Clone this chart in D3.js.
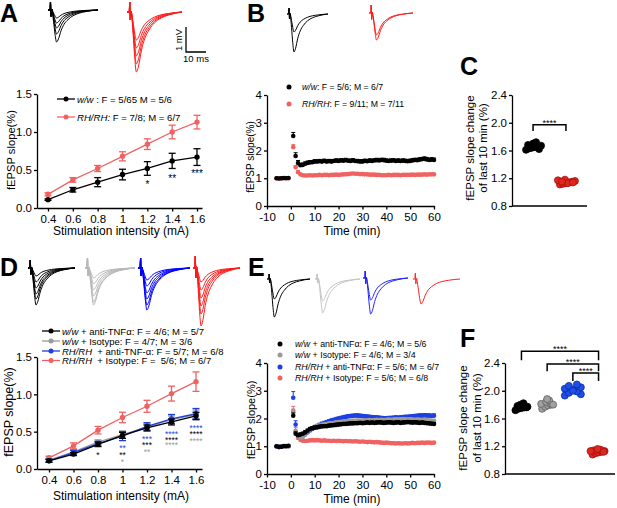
<!DOCTYPE html>
<html>
<head>
<meta charset="utf-8">
<script src="https://cdn.jsdelivr.net/npm/d3@7"></script>
<style>
body { margin: 0; background: #fff; }
svg { font-family: "Liberation Sans", Arial, sans-serif; }
.axis path, .axis line { stroke: #000; stroke-width: 1.3; }
.axis text { fill: #000; }
</style>
</head>
<body>
<svg id="fig" width="617" height="508"></svg>
<script>
// ---- data: input/output curves (A, D) ----
var intensity = [0.4, 0.6, 0.8, 1.0, 1.2, 1.4, 1.6];
var aWW = [0.11, 0.24, 0.34, 0.44, 0.52, 0.62, 0.67];
var aWWErr = [0.01, 0.03, 0.06, 0.07, 0.09, 0.10, 0.11];
var aRH = [0.18, 0.37, 0.52, 0.68, 0.84, 1.00, 1.13];
var aRHErr = [0.02, 0.03, 0.04, 0.06, 0.07, 0.09, 0.09];
var aStars = [{ x: 1.2, y: 0.33, t: "*" }, { x: 1.4, y: 0.41, t: "**" }, { x: 1.6, y: 0.47, t: "***" }];

var dWWanti = [0.11, 0.20, 0.33, 0.45, 0.55, 0.63, 0.71];
var dWWantiErr = [0.02, 0.02, 0.03, 0.04, 0.04, 0.04, 0.05];
var dWWiso = [0.12, 0.23, 0.36, 0.46, 0.56, 0.66, 0.73];
var dWWisoErr = [0.02, 0.03, 0.03, 0.05, 0.05, 0.05, 0.06];
var dRHanti = [0.11, 0.22, 0.34, 0.44, 0.57, 0.67, 0.74];
var dRHantiErr = [0.02, 0.03, 0.03, 0.06, 0.05, 0.06, 0.07];
var dRHiso = [0.15, 0.31, 0.52, 0.69, 0.84, 1.01, 1.17];
var dRHisoErr = [0.02, 0.04, 0.05, 0.07, 0.08, 0.10, 0.13];
var dStars = [
  { x: 0.8, y: 0.21, t: "*", c: "k" },
  { x: 1.0, y: 0.30, t: "**", c: "b" }, { x: 1.0, y: 0.20, t: "**", c: "k" }, { x: 1.0, y: 0.11, t: "*", c: "g" },
  { x: 1.2, y: 0.42, t: "***", c: "b" }, { x: 1.2, y: 0.34, t: "***", c: "k" }, { x: 1.2, y: 0.25, t: "**", c: "g" },
  { x: 1.4, y: 0.48, t: "****", c: "b" }, { x: 1.4, y: 0.41, t: "****", c: "k" }, { x: 1.4, y: 0.34, t: "****", c: "g" },
  { x: 1.6, y: 0.56, t: "****", c: "b" }, { x: 1.6, y: 0.48, t: "****", c: "k" }, { x: 1.6, y: 0.39, t: "****", c: "g" }
];

// ---- data: LTP time courses (B, E) ----
var timeBase = [-6, -5, -4, -3, -2, -1];
var timePost = d3.range(1, 61);

var bWWbase = [1.00, 0.99, 1.00, 1.01, 1.00, 1.01];
var bWW = [2.52, 1.80, 1.55, 1.47, 1.48, 1.52, 1.55, 1.57, 1.58, 1.60,
  1.60, 1.61, 1.60, 1.62, 1.60, 1.61, 1.60, 1.62, 1.63, 1.62,
  1.64, 1.63, 1.65, 1.63, 1.62, 1.64, 1.62, 1.61, 1.60, 1.60,
  1.62, 1.61, 1.63, 1.62, 1.64, 1.65, 1.64, 1.66, 1.65, 1.63,
  1.62, 1.63, 1.64, 1.62, 1.63, 1.62, 1.63, 1.62, 1.61, 1.62,
  1.64, 1.66, 1.65, 1.67, 1.69, 1.70, 1.68, 1.66, 1.67, 1.66];
var bWWErr = [0.13, 0.12, 0.09, 0.07, 0.07, 0.07, 0.07, 0.07, 0.06, 0.07,
  0.06, 0.07, 0.06, 0.07, 0.06, 0.07, 0.07, 0.06, 0.07, 0.07,
  0.06, 0.07, 0.07, 0.06, 0.07, 0.07, 0.06, 0.07, 0.06, 0.07,
  0.07, 0.06, 0.07, 0.07, 0.06, 0.07, 0.07, 0.06, 0.07, 0.07,
  0.06, 0.07, 0.07, 0.06, 0.07, 0.06, 0.07, 0.07, 0.06, 0.07,
  0.07, 0.06, 0.07, 0.07, 0.06, 0.07, 0.07, 0.06, 0.07, 0.07];
var bRHbase = [1.00, 1.00, 0.99, 1.00, 1.01, 1.00];
var bRH = [2.12, 1.40, 1.22, 1.14, 1.11, 1.10, 1.10, 1.11, 1.10, 1.11,
  1.11, 1.12, 1.11, 1.12, 1.12, 1.11, 1.12, 1.12, 1.13, 1.12,
  1.13, 1.14, 1.14, 1.15, 1.16, 1.17, 1.16, 1.16, 1.15, 1.15,
  1.14, 1.14, 1.13, 1.13, 1.13, 1.12, 1.12, 1.11, 1.11, 1.11,
  1.12, 1.11, 1.12, 1.12, 1.12, 1.11, 1.12, 1.12, 1.12, 1.12,
  1.13, 1.12, 1.13, 1.13, 1.13, 1.14, 1.13, 1.14, 1.14, 1.14];
var bRHErr = [0.09, 0.05, 0.04, 0.03, 0.03, 0.03, 0.03, 0.03, 0.03, 0.03,
  0.03, 0.03, 0.03, 0.03, 0.03, 0.03, 0.03, 0.03, 0.03, 0.03,
  0.03, 0.03, 0.03, 0.03, 0.03, 0.03, 0.03, 0.03, 0.03, 0.03,
  0.03, 0.03, 0.03, 0.03, 0.03, 0.03, 0.03, 0.03, 0.03, 0.03,
  0.03, 0.03, 0.03, 0.03, 0.03, 0.03, 0.03, 0.03, 0.03, 0.03,
  0.03, 0.03, 0.03, 0.03, 0.03, 0.03, 0.03, 0.03, 0.03, 0.03];

var eWWantiBase = [1.00, 0.97, 0.98, 1.01, 1.00, 1.02];
var eWWanti = [2.10, 1.45, 1.40, 1.42, 1.45, 1.50, 1.56, 1.62, 1.65, 1.67,
  1.68, 1.70, 1.71, 1.72, 1.72, 1.74, 1.75, 1.76, 1.77, 1.78,
  1.79, 1.80, 1.80, 1.81, 1.82, 1.82, 1.83, 1.83, 1.84, 1.83,
  1.84, 1.85, 1.84, 1.85, 1.84, 1.85, 1.86, 1.85, 1.84, 1.85,
  1.86, 1.85, 1.84, 1.85, 1.86, 1.84, 1.85, 1.86, 1.87, 1.86,
  1.85, 1.86, 1.85, 1.84, 1.85, 1.84, 1.83, 1.82, 1.81, 1.80];
var eWWantiErr = [0.10, 0.07, 0.06, 0.06, 0.06, 0.06, 0.06, 0.06, 0.06, 0.06,
  0.06, 0.06, 0.06, 0.06, 0.06, 0.06, 0.06, 0.06, 0.06, 0.06,
  0.06, 0.06, 0.06, 0.06, 0.06, 0.06, 0.06, 0.06, 0.06, 0.06,
  0.06, 0.06, 0.06, 0.06, 0.06, 0.06, 0.06, 0.06, 0.06, 0.06,
  0.06, 0.06, 0.06, 0.06, 0.06, 0.06, 0.06, 0.06, 0.06, 0.06,
  0.06, 0.06, 0.06, 0.06, 0.06, 0.06, 0.06, 0.06, 0.06, 0.06];
var eWWisoBase = [1.00, 0.98, 0.99, 1.00, 1.01, 1.00];
var eWWiso = [2.22, 1.50, 1.36, 1.31, 1.34, 1.42, 1.52, 1.60, 1.65, 1.70,
  1.73, 1.75, 1.77, 1.79, 1.80, 1.82, 1.83, 1.84, 1.86, 1.87,
  1.88, 1.89, 1.90, 1.90, 1.91, 1.92, 1.92, 1.93, 1.92, 1.93,
  1.92, 1.93, 1.94, 1.93, 1.94, 1.95, 1.94, 1.95, 1.94, 1.95,
  1.96, 1.95, 1.96, 1.97, 1.96, 1.97, 1.98, 1.97, 1.96, 1.97,
  1.96, 1.95, 1.96, 1.95, 1.94, 1.95, 1.94, 1.93, 1.92, 1.92];
var eWWisoErr = [0.12, 0.08, 0.06, 0.05, 0.05, 0.05, 0.05, 0.05, 0.05, 0.05,
  0.05, 0.05, 0.05, 0.05, 0.05, 0.05, 0.05, 0.05, 0.05, 0.05,
  0.05, 0.05, 0.05, 0.05, 0.05, 0.05, 0.05, 0.05, 0.05, 0.05,
  0.05, 0.05, 0.05, 0.05, 0.05, 0.05, 0.05, 0.05, 0.05, 0.05,
  0.05, 0.05, 0.05, 0.05, 0.05, 0.05, 0.05, 0.05, 0.05, 0.05,
  0.05, 0.05, 0.05, 0.05, 0.05, 0.05, 0.05, 0.05, 0.05, 0.05];
var eRHantiBase = [1.00, 0.99, 0.98, 1.00, 1.01, 1.00];
var eRHanti = [2.75, 1.78, 1.38, 1.33, 1.35, 1.42, 1.50, 1.57, 1.62, 1.68,
  1.72, 1.76, 1.80, 1.83, 1.86, 1.89, 1.92, 1.94, 1.97, 1.99,
  2.01, 2.03, 2.05, 2.07, 2.08, 2.09, 2.10, 2.10, 2.09, 2.08,
  2.07, 2.06, 2.05, 2.04, 2.03, 2.03, 2.02, 2.01, 2.00, 2.00,
  2.01, 2.01, 2.02, 2.03, 2.02, 2.03, 2.04, 2.05, 2.05, 2.06,
  2.07, 2.08, 2.09, 2.10, 2.10, 2.11, 2.10, 2.10, 2.09, 2.10];
var eRHantiErr = [0.22, 0.14, 0.08, 0.07, 0.07, 0.07, 0.07, 0.07, 0.07, 0.07,
  0.07, 0.07, 0.07, 0.07, 0.07, 0.07, 0.07, 0.07, 0.07, 0.07,
  0.07, 0.07, 0.07, 0.07, 0.07, 0.07, 0.07, 0.07, 0.07, 0.07,
  0.07, 0.07, 0.07, 0.07, 0.07, 0.07, 0.07, 0.07, 0.07, 0.07,
  0.07, 0.07, 0.07, 0.07, 0.07, 0.07, 0.07, 0.07, 0.07, 0.07,
  0.07, 0.07, 0.07, 0.07, 0.07, 0.07, 0.07, 0.07, 0.07, 0.07];
var eRHisoBase = [0.99, 0.98, 0.98, 1.00, 1.00, 1.01];
var eRHiso = [2.28, 1.55, 1.30, 1.23, 1.20, 1.19, 1.20, 1.21, 1.22, 1.21,
  1.22, 1.21, 1.20, 1.21, 1.20, 1.20, 1.19, 1.20, 1.19, 1.20,
  1.19, 1.18, 1.19, 1.18, 1.18, 1.17, 1.18, 1.17, 1.16, 1.17,
  1.16, 1.15, 1.16, 1.15, 1.14, 1.15, 1.14, 1.13, 1.12, 1.13,
  1.12, 1.11, 1.11, 1.10, 1.11, 1.10, 1.10, 1.11, 1.10, 1.11,
  1.12, 1.11, 1.12, 1.12, 1.13, 1.12, 1.13, 1.13, 1.12, 1.13];
var eRHisoErr = [0.16, 0.12, 0.05, 0.04, 0.04, 0.04, 0.04, 0.04, 0.04, 0.04,
  0.04, 0.04, 0.04, 0.04, 0.04, 0.04, 0.04, 0.04, 0.04, 0.04,
  0.04, 0.04, 0.04, 0.04, 0.04, 0.04, 0.04, 0.04, 0.04, 0.04,
  0.04, 0.04, 0.04, 0.04, 0.04, 0.04, 0.04, 0.04, 0.04, 0.04,
  0.04, 0.04, 0.04, 0.04, 0.04, 0.04, 0.04, 0.04, 0.04, 0.04,
  0.04, 0.04, 0.04, 0.04, 0.04, 0.04, 0.04, 0.04, 0.04, 0.04];

// ---- data: last 10 min summaries (C, F) ----
var cWW = [1.61, 1.63, 1.64, 1.65, 1.66, 1.67, 1.68, 1.70, 1.72, 1.65, 1.62];
var cWWdx = [-7, -4, -1, 2, 5, 8, -5, 0, 3, -2, 6];
var cRH = [1.11, 1.12, 1.13, 1.14, 1.15, 1.16, 1.17, 1.18, 1.13, 1.15, 1.14];
var cRHdx = [-6, -3, 0, 3, 6, 9, -8, -1, 2, -4, 7];
var fWWanti = [1.72, 1.74, 1.75, 1.76, 1.77, 1.78, 1.79, 1.80, 1.82, 1.76];
var fWWantiDx = [-6, -3, 0, 3, 6, -4, 1, -1, 2, 5];
var fWWiso = [1.74, 1.77, 1.79, 1.80, 1.81, 1.82, 1.84, 1.86, 1.88, 1.80];
var fWWisoDx = [-5, -2, 1, 4, -6, 3, -1, 2, 0, 6];
var fRHanti = [1.93, 1.95, 1.97, 1.99, 2.01, 2.03, 2.05, 2.07, 2.09, 2.00];
var fRHantiDx = [-8, 8, -4, 4, 0, -8, 8, -4, 4, 0];
var fRHiso = [1.08, 1.10, 1.11, 1.12, 1.13, 1.14, 1.15, 1.16, 1.12, 1.13];
var fRHisoDx = [-6, -3, 0, 3, 6, -5, 2, -1, 5, -8];

// ---- example sweeps (shape template) ----
var traceTime = [0, 0.04, 0.05, 0.06, 0.075, 0.09, 0.11, 0.14, 0.17, 0.21, 0.26, 0.32, 0.40, 0.50, 0.62, 0.76, 0.88, 1.0];
var traceArtifact = [0, 0, 1, -0.8, 0.1, 0, 0, 0, 0, 0, 0, 0, 0, 0, 0, 0, 0, 0];
var traceShape = [0, 0, 0, 0, 0, -0.1, -0.35, -0.75, -1, -0.9, -0.65, -0.45, -0.3, -0.18, -0.1, -0.05, -0.02, 0];

var BLACK = "#000", GRAY = "#9a9a9a", BLUE = "#1f3fe0", SALMON = "#f06262", RED = "#ff1a1a";

var svg = d3.select("#fig");

function panelLabel(x, y, t) {
  svg.append("text").attr("x", x).attr("y", y).text(t)
    .style("font-size", "25px").style("font-weight", "bold");
}

function yTitle(x, y, t, size) {
  svg.append("text").attr("transform", "translate(" + x + "," + y + ") rotate(-90)")
    .attr("text-anchor", "middle").style("font-size", size + "px").text(t);
}

function xTitle(x, y, t, size) {
  svg.append("text").attr("x", x).attr("y", y).attr("text-anchor", "middle")
    .style("font-size", size + "px").text(t);
}

function styleAxis(g, size) {
  g.attr("class", "axis").attr("font-family", null).attr("font-size", null);
  g.selectAll("text").style("font-size", size + "px");
}

function drawAxes(x, y, xTicks, yTicks, xFmt, yFmt) {
  var gx = svg.append("g").attr("transform", "translate(0," + y.range()[0] + ")")
    .call(d3.axisBottom(x).tickValues(xTicks).tickFormat(xFmt).tickSize(3.5).tickPadding(3).tickSizeOuter(0));
  styleAxis(gx, 11.5);
  var gy = svg.append("g").attr("transform", "translate(" + x.range()[0] + ",0)")
    .call(d3.axisLeft(y).tickValues(yTicks).tickFormat(yFmt).tickSize(3).tickPadding(2).tickSizeOuter(0));
  styleAxis(gy, 11.5);
}

function legendText(x, y, ital, rest, size) {
  var t = svg.append("text").attr("x", x).attr("y", y).style("font-size", size + "px").style("white-space", "pre");
  t.append("tspan").style("font-style", "italic").text(ital);
  t.append("tspan").text(rest);
}

function drawTraces(x0, x1, base, amps, artAmp, color) {
  var xs = d3.scaleLinear().domain([0, 1]).range([x0, x1]);
  amps.forEach(function (amp) {
    var line = d3.line()
      .x(function (d, i) { return xs(traceTime[i]); })
      .y(function (d, i) { return base - traceArtifact[i] * artAmp - traceShape[i] * amp; })
      .curve(d3.curveMonotoneX);
    svg.append("path").attr("d", line(traceTime)).attr("fill", "none")
      .attr("stroke", color).attr("stroke-width", 1);
  });
}

// line + error plot (A, D)
function ioSeries(x, y, vals, err, color) {
  var g = svg.append("g");
  g.append("path").attr("d", d3.line().x(function (d, i) { return x(intensity[i]); }).y(function (d) { return y(d); })(vals))
    .attr("fill", "none").attr("stroke", color).attr("stroke-width", 1.3);
  vals.forEach(function (v, i) {
    var cx = x(intensity[i]);
    g.append("line").attr("x1", cx).attr("x2", cx).attr("y1", y(v - err[i])).attr("y2", y(v + err[i]))
      .attr("stroke", color).attr("stroke-width", 1.3);
    [v - err[i], v + err[i]].forEach(function (e) {
      g.append("line").attr("x1", cx - 3.5).attr("x2", cx + 3.5).attr("y1", y(e)).attr("y2", y(e))
        .attr("stroke", color).attr("stroke-width", 1.3);
    });
    g.append("circle").attr("cx", cx).attr("cy", y(v)).attr("r", 2.7).attr("fill", color);
  });
}

function ioLegend(x0, y, color) {
  svg.append("line").attr("x1", x0).attr("x2", x0 + 18).attr("y1", y).attr("y2", y)
    .attr("stroke", color).attr("stroke-width", 1.3);
  svg.append("circle").attr("cx", x0 + 9).attr("cy", y).attr("r", 2.5).attr("fill", color);
}

// dense time course (B, E): upward SEM only
function timeSeries(x, y, base, vals, err, color, r) {
  var g = svg.append("g");
  vals.forEach(function (v, i) {
    var cx = x(timePost[i]);
    g.append("line").attr("x1", cx).attr("x2", cx).attr("y1", y(v)).attr("y2", y(v + err[i]))
      .attr("stroke", color).attr("stroke-width", 1);
    g.append("line").attr("x1", cx - 2).attr("x2", cx + 2).attr("y1", y(v + err[i])).attr("y2", y(v + err[i]))
      .attr("stroke", color).attr("stroke-width", 1);
  });
  base.forEach(function (v, i) {
    g.append("circle").attr("cx", x(timeBase[i])).attr("cy", y(v)).attr("r", r).attr("fill", color);
  });
  vals.forEach(function (v, i) {
    g.append("circle").attr("cx", x(timePost[i])).attr("cy", y(v)).attr("r", r).attr("fill", color);
  });
}

function scatterGroup(x, y, key, vals, dx, fill, stroke) {
  vals.forEach(function (v, i) {
    svg.append("circle").attr("cx", x(key) + dx[i]).attr("cy", y(v)).attr("r", 3.5)
      .attr("fill", fill).attr("stroke", stroke).attr("stroke-width", 0.8);
  });
}

function bracket(x, y, k1, k2, top, drop) {
  var x1 = x(k1), x2 = x(k2);
  svg.append("path").attr("d", "M" + x1 + "," + y(drop) + "V" + y(top) + "H" + x2 + "V" + y(drop))
    .attr("fill", "none").attr("stroke", "#000").attr("stroke-width", 1.5);
  svg.append("text").attr("x", (x1 + x2) / 2).attr("y", y(top) + 1).attr("text-anchor", "middle")
    .style("font-size", "9px").text("****");
}

// one text per intensity column, each significance row as a tspan
function stars(x, y, list, colors, size) {
  var cols = d3.group(list, function (s) { return s.x; });
  cols.forEach(function (rows, key) {
    var t = svg.append("text").attr("text-anchor", "middle").style("font-size", size + "px");
    rows.forEach(function (s) {
      t.append("tspan").attr("x", x(key)).attr("y", y(s.y) + size / 2)
        .style("fill", colors[s.c || "k"]).text(s.t);
    });
  });
}

var fmtI = function (d) { return d === 1 ? "1" : d.toFixed(1); };
var fmt1 = function (d) { return d.toFixed(1); };
var fmt0 = function (d) { return d; };

// ===== Panel A =====
panelLabel(0, 22, "A");
drawTraces(48, 98, 10, [8, 13, 18, 24, 32], 8, BLACK);
drawTraces(127, 182, 12, [28, 36, 44, 52, 60], 10, RED);
svg.append("path").attr("d", "M186,27V52H206").attr("fill", "none").attr("stroke", "#000").attr("stroke-width", 1.3);
svg.append("text").attr("transform", "translate(182,40) rotate(-90)").attr("text-anchor", "middle")
  .style("font-size", "9.5px").text("1 mV");
svg.append("text").attr("x", 196).attr("y", 62).attr("text-anchor", "middle").style("font-size", "9.5px").text("10 ms");

var xA = d3.scaleLinear().domain([0.4, 1.6]).range([48, 197]);
xA.domain([xA.invert(37), xA.invert(202)]).range([37, 202]);
var yA = d3.scaleLinear().domain([0, 1.5]).range([208, 94]);
drawAxes(xA, yA, intensity, [0, 0.5, 1.0, 1.5], fmtI, fmt1);
ioSeries(xA, yA, aWW, aWWErr, BLACK);
ioSeries(xA, yA, aRH, aRHErr, SALMON);
stars(xA, yA, aStars, { k: BLACK }, 10);
ioLegend(57, 99, BLACK);
legendText(77, 102.5, "w/w", " : F = 5/65 M = 5/6", 9.6);
ioLegend(57, 117, SALMON);
legendText(77, 120.5, "RH/RH:", " F = 7/8; M = 6/7", 9.6);
yTitle(15, 150, "fEPSP slope(%)", 11.2);
xTitle(121, 235, "Stimulation intensity (mA)", 12);

// ===== Panel B =====
panelLabel(247, 22, "B");
drawTraces(287, 328, 14, [18, 38], 6, BLACK);
drawTraces(369, 413, 13, [22, 27], 8, RED);
var xB = d3.scaleLinear().domain([-10, 60]).range([267, 434]);
var yB = d3.scaleLinear().domain([0, 4]).range([206, 95]);
drawAxes(xB, yB, d3.range(-10, 61, 10), [0, 1, 2, 3, 4], fmt0, fmt0);
timeSeries(xB, yB, bRHbase, bRH, bRHErr, SALMON, 2.3);
timeSeries(xB, yB, bWWbase, bWW, bWWErr, BLACK, 2.3);
svg.append("circle").attr("cx", 289).attr("cy", 87).attr("r", 2.5).attr("fill", BLACK);
legendText(302, 90, "w/w", ": F = 5/6; M = 6/7", 8.7);
svg.append("circle").attr("cx", 289).attr("cy", 104).attr("r", 2.5).attr("fill", SALMON);
legendText(302, 107, "RH/RH", ": F = 9/11; M = 7/11", 8.7);
yTitle(254, 157, "fEPSP slope(%)", 10);
xTitle(352, 235, "Time (min)", 12);

// ===== Panel C =====
panelLabel(460, 75, "C");
var xC = d3.scalePoint().domain(["ww", "rh"]).range([512, 587]).padding(0.64);
var yC = d3.scaleLinear().domain([0.8, 2.4]).range([206, 95]);
var gCy = svg.append("g").attr("transform", "translate(512,0)")
  .call(d3.axisLeft(yC).tickValues([0.8, 1.2, 1.6, 2.0, 2.4]).tickFormat(fmt1).tickSize(3).tickPadding(2).tickSizeOuter(0));
styleAxis(gCy, 11.5);
svg.append("line").attr("x1", 512).attr("x2", 587).attr("y1", 206).attr("y2", 206).attr("stroke", "#000").attr("stroke-width", 1.3);
scatterGroup(xC, yC, "ww", cWW, cWWdx, "#000", "#000");
scatterGroup(xC, yC, "rh", cRH, cRHdx, "#e2261b", "#a01010");
bracket(xC, yC, "ww", "rh", 1.97, 1.88);
yTitle(474, 148, "fEPSP slope change", 11.5);
yTitle(487, 148, "of last 10 min (%)", 11.5);

// ===== Panel D =====
panelLabel(0, 276, "D");
drawTraces(28, 75, 268, [8, 14, 20, 26, 31, 37], 8, BLACK);
drawTraces(85, 135, 268, [10, 16, 22, 28, 34, 37], 10, "#b8b8b8");
drawTraces(138, 190, 268, [12, 18, 25, 31, 37, 42], 10, "#0000ff");
drawTraces(193, 240, 268, [14, 22, 30, 38, 46, 58], 12, RED);
var xD = d3.scaleLinear().domain([0.4, 1.6]).range([49, 196]);
xD.domain([xD.invert(37), xD.invert(202)]).range([37, 202]);
var yD = d3.scaleLinear().domain([0, 1.5]).range([469, 357]);
drawAxes(xD, yD, intensity, [0, 0.5, 1.0, 1.5], fmtI, fmt1);
ioSeries(xD, yD, dRHiso, dRHisoErr, SALMON);
ioSeries(xD, yD, dWWiso, dWWisoErr, GRAY);
ioSeries(xD, yD, dRHanti, dRHantiErr, BLUE);
ioSeries(xD, yD, dWWanti, dWWantiErr, BLACK);
stars(xD, yD, dStars, { k: BLACK, b: BLUE, g: GRAY }, 8.5);
ioLegend(42, 331, BLACK);
legendText(62, 334.5, "w/w", " + anti-TNFα: F = 4/6; M = 5/7", 9.5);
ioLegend(42, 341, GRAY);
legendText(62, 344.5, "w/w", " + Isotype: F = 4/7; M = 3/6", 9.5);
ioLegend(42, 351, BLUE);
legendText(62, 354.5, "RH/RH", "  + anti-TNF-α: F = 5/7; M = 6/8", 9.5);
ioLegend(42, 360.5, SALMON);
legendText(62, 364, "RH/RH", "  + Isotype: F =  5/6; M = 6/7", 9.5);
yTitle(13, 412, "fEPSP slope(%)", 12.5);
xTitle(121, 500, "Stimulation intensity (mA)", 12);

// ===== Panel E =====
panelLabel(248, 276, "E");
drawTraces(267, 310, 279, [20, 38], 5, BLACK);
drawTraces(315, 360, 279, [22, 34], 5, "#c4c4c4");
drawTraces(363, 408, 278, [22, 36], 7, "#2020ff");
drawTraces(413, 460, 279, [25], 6, RED);
var xE = d3.scaleLinear().domain([-10, 60]).range([267, 434]);
var yE = d3.scaleLinear().domain([0, 4]).range([474, 363]);
drawAxes(xE, yE, d3.range(-10, 61, 10), [0, 1, 2, 3, 4], fmt0, fmt0);
timeSeries(xE, yE, eRHisoBase, eRHiso, eRHisoErr, SALMON, 2.3);
timeSeries(xE, yE, eRHantiBase, eRHanti, eRHantiErr, BLUE, 2.3);
timeSeries(xE, yE, eWWisoBase, eWWiso, eWWisoErr, GRAY, 2.3);
timeSeries(xE, yE, eWWantiBase, eWWanti, eWWantiErr, BLACK, 2.3);
[[344, BLACK, "w/w", " + anti-TNFα: F = 4/6; M = 5/6"],
 [355, GRAY, "w/w", " + Isotype: F = 4/6; M = 3/4"],
 [367, BLUE, "RH/RH", " + anti-TNFα: F = 5/6; M = 6/7"],
 [378, SALMON, "RH/RH", " + Isotype: F = 5/6; M = 6/8"]].forEach(function (l) {
  svg.append("circle").attr("cx", 280).attr("cy", l[0]).attr("r", 2.5).attr("fill", l[1]);
  legendText(295, l[0] + 3, l[2], l[3], 8.8);
});
yTitle(254.5, 420, "fEPSP slope(%)", 11);
xTitle(352, 503, "Time (min)", 12);

// ===== Panel F =====
panelLabel(460, 347, "F");
var xF = d3.scalePoint().domain(["wwA", "wwI", "rhA", "rhI"]).range([505, 615]).padding(0.64);
var yF = d3.scaleLinear().domain([0.8, 2.4]).range([474, 363]);
var gFy = svg.append("g").attr("transform", "translate(505,0)")
  .call(d3.axisLeft(yF).tickValues([0.8, 1.2, 1.6, 2.0, 2.4]).tickFormat(fmt1).tickSize(3).tickPadding(2).tickSizeOuter(0));
styleAxis(gFy, 11.5);
svg.append("line").attr("x1", 505).attr("x2", 615).attr("y1", 474).attr("y2", 474).attr("stroke", "#000").attr("stroke-width", 1.3);
scatterGroup(xF, yF, "wwA", fWWanti, fWWantiDx, "#000", "#000");
scatterGroup(xF, yF, "wwI", fWWiso, fWWisoDx, "#a0a0a0", "#606060");
scatterGroup(xF, yF, "rhA", fRHanti, fRHantiDx, "#1f4fe6", "#0a2aa0");
scatterGroup(xF, yF, "rhI", fRHiso, fRHisoDx, "#e2261b", "#a01010");
bracket(xF, yF, "wwA", "rhI", 2.57, 2.44);
bracket(xF, yF, "wwI", "rhI", 2.385, 2.28);
bracket(xF, yF, "rhA", "rhI", 2.255, 2.14);
yTitle(467, 418, "fEPSP slope change", 11.5);
yTitle(481, 418, "of last 10 min (%)", 11.5);
</script>
</body>
</html>
